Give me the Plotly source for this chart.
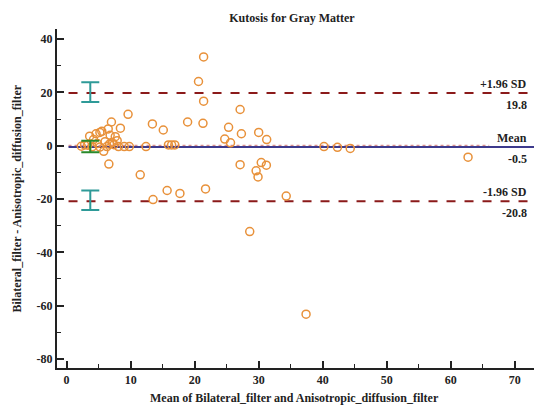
import plotly.graph_objects as go

# Bland-Altman data: mean of the two methods (x) and difference (y)
mean_vals = [2.3, 2.8, 3.3, 3.6, 4.0, 4.2, 4.6, 4.8, 5.2, 5.2, 5.5, 5.8, 6.0, 6.3, 6.5, 6.6,
             6.7, 6.8, 7.0, 7.1, 7.4, 7.6, 7.9, 8.1, 8.4, 9.0, 9.6, 9.8,
             11.5, 12.4, 13.4, 13.5, 15.1, 15.7, 15.9, 16.4, 16.9, 17.7, 18.9, 20.6,
             21.3, 21.4, 21.4, 21.7, 24.7, 25.3, 25.6, 27.1, 27.1, 27.3, 28.6, 29.6,
             29.9, 30.0, 30.4, 31.2, 31.25, 34.3, 37.4, 40.2, 42.3, 44.3, 62.7]
diff_vals = [-0.2, 0.3, 0.2, 3.6, -0.4, 2.3, 4.5, 0.8, 5.0, -0.5, 5.4, -2.1, 1.5, -0.3, 6.3, -6.9,
             0.6, 3.9, 8.9, 1.2, 0.4, 3.4, 1.9, -0.3, 6.6, -0.3, 11.8, -0.3,
             -10.9, -0.3, 8.2, -20.2, 5.9, -16.8, 0.3, 0.3, 0.3, -17.9, 8.9, 24.1,
             8.4, 33.3, 16.7, -16.2, 2.5, 6.9, 1.1, 13.6, -7.1, 4.5, -32.2, -9.4,
             -11.7, 5.0, -6.3, -7.3, 2.3, -18.9, -63.2, -0.3, -0.6, -1.0, -4.3]

mean_diff = -0.5
upper_loa = 19.8
lower_loa = -20.8
line_x = [0.3, 73.0]
zero_x = [0.3, 66.0]

# confidence intervals drawn as error bars
ci_x = 3.7
upper_ci = [16.4, 23.8]
mean_ci = [-2.4, 1.9]
lower_ci = [-24.1, -16.8]

labels_above = ["+1.96 SD", "Mean", "-1.96 SD"]
labels_below = ["19.8", "-0.5", "-20.8"]
label_levels = [upper_loa, mean_diff, lower_loa]

x_tickvals = [0, 10, 20, 30, 40, 50, 60, 70]
x_ticktext = ["0", "10", "20", "30", "40", "50", "60", "70"]
y_tickvals = [40, 20, 0, -20, -40, -60, -80]
y_ticktext = ["40", "20", "0", "-20", "-40", "-60", "-80"]

title = "Kutosis for Gray Matter"
x_title = "Mean of Bilateral_filter and Anisotropic_diffusion_filter"
y_title = "Bilateral_filter - Anisotropic_diffusion_filter"

FONT = "Liberation Serif"
TXT = "#222"
fig = go.Figure()

# zero (dotted) line
fig.add_trace(go.Scatter(x=zero_x, y=[0, 0], mode="lines",
                         line=dict(color="#d89090", width=2, dash="dot"),
                         hoverinfo="skip", showlegend=False))
# mean line
fig.add_trace(go.Scatter(x=line_x, y=[mean_diff, mean_diff], mode="lines",
                         line=dict(color="#3d3a8c", width=2),
                         hoverinfo="skip", showlegend=False))
# limits of agreement
for lv in (upper_loa, lower_loa):
    fig.add_trace(go.Scatter(x=line_x, y=[lv, lv], mode="lines",
                             line=dict(color="#8b1a1a", width=2, dash="dash"),
                             hoverinfo="skip", showlegend=False))

# data points
fig.add_trace(go.Scatter(x=mean_vals, y=diff_vals, mode="markers",
                         marker=dict(symbol="circle-open", size=8, color="#e8913a",
                                     line=dict(width=1.5, color="#e8913a")),
                         showlegend=False))

# CI error bars
def ci_bar(rng, centre, color):
    fig.add_trace(go.Scatter(
        x=[ci_x], y=[centre], mode="markers",
        marker=dict(size=1, color="rgba(0,0,0,0)"),
        error_y=dict(type="data", symmetric=False,
                     array=[rng[1] - centre], arrayminus=[centre - rng[0]],
                     color=color, thickness=2, width=9),
        hoverinfo="skip", showlegend=False))

ci_bar(upper_ci, upper_loa, "#2e9a98")
ci_bar(lower_ci, lower_loa, "#2e9a98")
ci_bar(mean_ci, mean_diff, "#2a8a2a")

fnt = dict(family=FONT, size=12, color=TXT, weight="bold")

fig.update_layout(
    width=540, height=405,
    margin=dict(l=57, r=6, t=29, b=37),
    paper_bgcolor="white", plot_bgcolor="white",
    title=dict(text=title, xref="container", x=292 / 540, xanchor="center",
               y=1 - 18 / 405, yanchor="middle", font=fnt),
    showlegend=False,
)

for above, below, lv in zip(labels_above, labels_below, label_levels):
    fig.add_annotation(x=72.2, y=lv, xref="x", yref="y", text=above,
                       xanchor="right", yanchor="middle", yshift=9, showarrow=False, font=fnt)
    fig.add_annotation(x=72.2, y=lv, xref="x", yref="y", text=below,
                       xanchor="right", yanchor="middle", yshift=-12, showarrow=False, font=fnt)

fig.add_annotation(x=(294 - 57) / 477, y=-(398 - 368) / 339, xref="paper", yref="paper",
                   text=x_title, showarrow=False, xanchor="center", yanchor="middle", font=fnt)
fig.add_annotation(x=-(57 - 16) / 477, y=0.5, xref="paper", yref="paper",
                   text=y_title, showarrow=False, textangle=-90, xanchor="center",
                   yanchor="middle", font=fnt)

fig.update_xaxes(range=[-1.5, 73.0], showgrid=False, zeroline=False,
                 showline=True, linecolor=TXT, linewidth=2,
                 ticks="inside", ticklen=7, tickwidth=1.5, tickcolor=TXT,
                 tickvals=x_tickvals, ticktext=x_ticktext,
                 minor=dict(ticks="inside", ticklen=4, dtick=5, tick0=0, tickcolor=TXT, tickwidth=1),
                 tickfont=fnt)
fig.update_yaxes(range=[-83.4, 43.8], showgrid=False, zeroline=False,
                 showline=True, linecolor=TXT, linewidth=2,
                 ticks="inside", ticklen=7, tickwidth=1.5, tickcolor=TXT,
                 tickvals=y_tickvals, ticktext=y_ticktext,
                 minor=dict(ticks="inside", ticklen=4, dtick=10, tick0=0, tickcolor=TXT, tickwidth=1),
                 tickfont=fnt)

fig.write_html("out.html")
